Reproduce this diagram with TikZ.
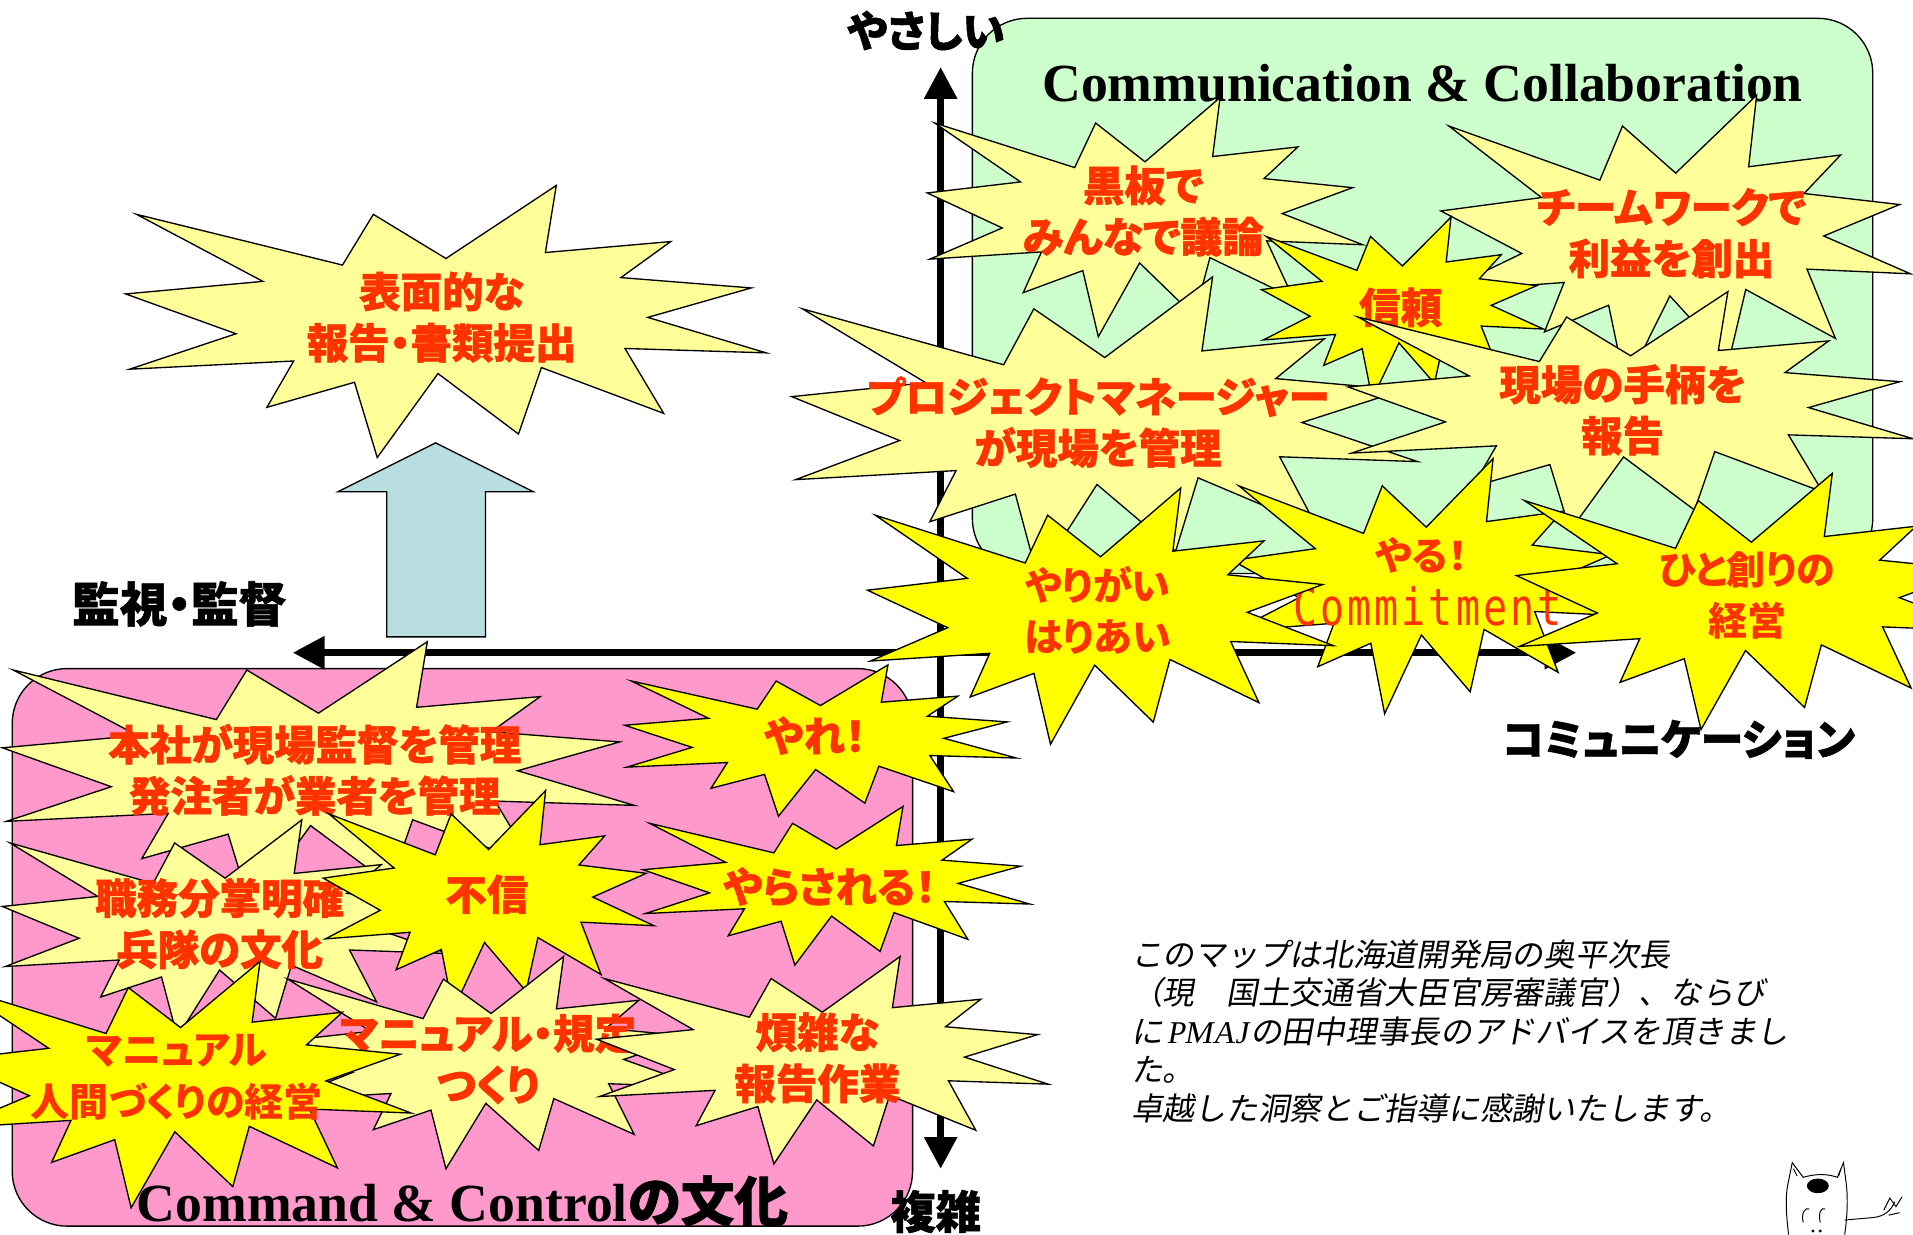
\documentclass[tikz,border=0pt]{standalone}
\usepackage{fontspec}
\setmainfont{Liberation Serif}
\newfontfamily\jp[RawFeature=+palt]{Noto Sans CJK JP}
\newfontfamily\jpheavy[RawFeature=+palt, BoldFeatures={FakeBold=1.2}]{Noto Sans CJK JP}
\newfontfamily\jpnote[FakeSlant=0.18]{Noto Sans CJK JP}
\newfontfamily\notelatin[FakeSlant=0.18]{Liberation Serif}
\newfontfamily\monofont[FakeStretch=0.78, LetterSpace=6]{DejaVu Sans Mono}
\usetikzlibrary{arrows.meta}

\definecolor{paleyellow}{HTML}{FFFF99}
\definecolor{hotyellow}{HTML}{FFFF00}
\definecolor{mintgreen}{HTML}{CCFFCC}
\definecolor{pinkzone}{HTML}{FF99CC}
\definecolor{textred}{HTML}{FF3300}
\definecolor{bluearrow}{RGB}{185,222,225}

% Twelve-spike explosion outline, fitted to the box (x0,y0,w,h); y grows downwards
\newcommand\boom[5]{%
  \draw[boomline, fill=#5, shift={(#1,#2)}, xscale=#3, yscale=#4]
    (0.5000,0.2685) -- (0.6723,0.0000) -- (0.6553,0.2465) -- (0.8509,0.2063) --
    (0.7732,0.3387) -- (0.9767,0.3767) -- (0.8151,0.4850) -- (1.0000,0.6153) --
    (0.7795,0.5992) -- (0.8400,0.8377) -- (0.6491,0.6693) -- (0.6133,0.9137) --
    (0.4876,0.6914) -- (0.3928,1.0000) -- (0.3572,0.7235) -- (0.2205,0.8156) --
    (0.2624,0.6452) -- (0.0063,0.6753) -- (0.1723,0.5451) -- (0.0000,0.3988) --
    (0.2142,0.3526) -- (0.0171,0.1063) -- (0.3385,0.2926) -- (0.3867,0.1063) -- cycle;}

\tikzset{
  boomline/.style={draw=black, line width=1.1pt, line join=miter},
  heavytext/.style={text=textred, font=\jpheavy\bfseries\fontsize{34}{42}\selectfont, align=center, inner sep=0pt},
  softtext/.style={text=textred, font=\jp\bfseries\fontsize{32}{42}\selectfont, align=center, inner sep=0pt},
  axislabel/.style={font=\jpheavy\bfseries\fontsize{35}{40}\selectfont, inner sep=0pt},
  axisline/.style={line width=5.5pt, {Triangle[width=26pt,length=26pt]}-{Triangle[width=26pt,length=26pt]}},
  zone/.style={draw=black, line width=1.1pt, rounded corners=45pt},
}

\begin{document}
\begin{tikzpicture}[x=1pt,y=-1pt]
\useasboundingbox (0,0) rectangle (1568,1012);

% background zones
\draw[zone, fill=mintgreen] (797,15) rectangle (1535,470);
\draw[zone, fill=pinkzone] (10,548) rectangle (748,1005);

% block arrow pointing up
\draw[fill=bluearrow, line width=1.1pt]
  (317,522) -- (317,403) -- (277,403) -- (357,363) -- (437,403) -- (398,403) -- (398,522) -- cycle;

% axes
\coordinate (vtop) at (771,55);
\coordinate (vbot) at (771,958);
\coordinate (hleft) at (240,535);
\coordinate (hright) at (1292,535);
\draw[axisline] (vbot) -- (vtop);
\draw[axisline] (hright) -- (hleft);

% axis labels
\node[axislabel] (easy) at (759,25) {やさしい};
\node[axislabel, font=\jpheavy\bfseries\fontsize{39}{40}\selectfont] (watch) at (147,495) {監視・監督};
\node[axislabel] (comm) at (1376,606) {コミュニケーション};
\node[axislabel, font=\jpheavy\bfseries\fontsize{37}{40}\selectfont] (complex) at (767,993) {複雑};

% zone titles
\node[font=\bfseries\fontsize{44}{48}\selectfont, anchor=base, inner sep=0pt] (cctitle) at (1166,83) {Communication \& Collaboration};
\node[font=\bfseries\fontsize{44}{48}\selectfont, anchor=base, inner sep=0pt] (c2title) at (379,1001) {Command \& Control{\jpheavy\bfseries の文化}};

% lower-left zone
\boom{2}{526}{518}{218}{paleyellow}
\node[heavytext] (honsha) at (258,631) {本社が現場監督を管理\\発注者が業者を管理};
\boom{2}{672}{365}{178}{paleyellow}
\node[heavytext] (shokumu) at (180,757) {職務分掌明確\\兵隊の文化};
\boom{265}{648}{271}{180}{hotyellow}
\node[heavytext] (fushin) at (399,733) {不信};
\boom{512}{545}{321}{124}{hotyellow}
\node[heavytext] (yare) at (668,603) {やれ！};
\boom{527}{661}{317}{130}{hotyellow}
\node[heavytext] (yarasareru) at (680,727) {やらされる！};
\boom{230}{784}{345}{174}{paleyellow}
\node[heavytext] (kitei) at (400,868) {マニュアル・規定\\つくり};
\boom{489}{784}{370}{170}{paleyellow}
\node[heavytext] (hanzatsu) at (670,867) {煩雑な\\報告作業};
\boom{-41}{788}{378}{202}{hotyellow}
\node[softtext] (ningen) at (145,883) {マニュアル\\人間づくりの経営};

% upper area
\boom{103}{152}{525}{223}{paleyellow}
\node[heavytext] (hyomen) at (362,260) {表面的な\\報告・書類提出};
\boom{760}{80}{357}{196}{paleyellow}
\node[heavytext] (kokuban) at (937,173) {黒板で\\みんなで議論};
\boom{1181}{78}{385}{238}{paleyellow}
\node[heavytext] (team) at (1370,191) {チームワークで\\利益を創出};
\boom{1034}{178}{231}{149}{hotyellow}
\node[heavytext] (shinrai) at (1148,252) {信頼};
\boom{649}{227}{513}{246}{paleyellow}
\node[heavytext] (pm) at (900,346) {プロジェクトマネージャー\\が現場を管理};
\boom{1105}{239}{463}{196}{paleyellow}
\node[heavytext] (tegara) at (1330,336) {現場の手柄を\\報告};
\boom{1010}{376}{318}{209}{hotyellow}
\node[softtext] (yaru) at (1165,455) {やる！};
\node[text=textred, font=\monofont\fontsize{42}{44}\selectfont, inner sep=0pt] (commit) at (1170,497) {Commitment};
\boom{711}{400}{382}{210}{hotyellow}
\node[softtext] (yarigai) at (900,500) {やりがい\\はりあい};
\boom{1243}{388}{385}{210}{hotyellow}
\node[softtext] (hito) at (1432,488) {ひと創りの\\経営};

% acknowledgement note
\node[anchor=base west, align=left, inner sep=0pt, font=\jpnote\fontsize{26}{31.5}\selectfont] (note) at (927,918)
  {このマップは北海道開発局の奥平次長\\
   （現　国土交通省大臣官房審議官）、ならび\\
   に\kern3pt{\notelatin PMAJ}\kern2pt の田中理事長のアドバイスを頂きまし\\
   た。\\
   卓越した洞察とご指導に感謝いたします。};

% little cat
\begin{scope}[line width=0.8pt]
\draw (1466,1012) .. controls (1464,995) and (1463,980) .. (1466,968) -- (1469,953) -- (1478,965)
  .. controls (1488,962) and (1498,962) .. (1506,965) -- (1511,953) -- (1513,968)
  .. controls (1515,982) and (1514,998) .. (1512,1012);
\draw (1470,958) -- (1473,964);
\draw (1509,958) -- (1507,964);
\fill (1490,972) ellipse (9 and 6);
\draw (1478,1002) .. controls (1476,994) and (1480,989) .. (1483,991);
\draw (1492,1002) .. controls (1490,994) and (1493,989) .. (1496,991);
\fill (1486,1009) circle (1.3);
\fill (1492,1009) circle (1.3);
\draw (1512,1000) -- (1535,998) .. controls (1545,997) and (1550,992) .. (1553,985);
\draw (1544,992) -- (1549,982) -- (1554,989) -- (1559,981);
\draw (1548,996) -- (1557,994);
\end{scope}
\end{tikzpicture}
\end{document}
